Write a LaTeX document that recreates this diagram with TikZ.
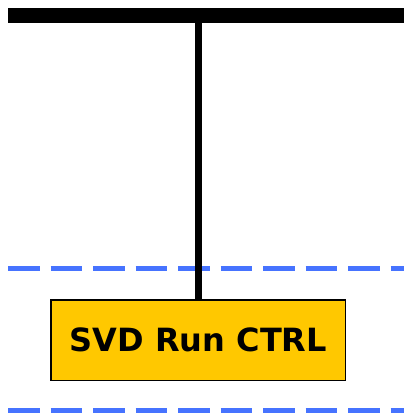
\documentclass[tikz,border=0pt]{standalone}
\usepackage{fontspec}
\setmainfont{DejaVu Sans}
\definecolor{ctrlgold}{RGB}{255,200,0}
\definecolor{laneblue}{RGB}{70,115,255}
\tikzset{
  busbar/.style={line width=15pt, black},
  busdrop/.style={line width=7pt, black},
  lane/.style={line width=4.5pt, laneblue, dash pattern=on 31.5pt off 11pt},
  ctrlbox/.style={draw=black, line width=1.3pt, fill=ctrlgold, minimum width=294.5pt,
    minimum height=80.5pt, inner sep=0pt, font=\fontsize{32}{36}\selectfont\bfseries}
}
\begin{document}
\begin{tikzpicture}[x=1pt, y=-1pt]
  \useasboundingbox (0,0) rectangle (404,415);
  % lane separators
  \coordinate (laneAw) at (8,268.5);
  \coordinate (laneAe) at (404,268.5);
  \coordinate (laneBw) at (8,410.5);
  \coordinate (laneBe) at (404,410.5);
  \draw[lane] (laneAw) -- (laneAe);
  \draw[lane] (laneBw) -- (laneBe);
  % main bus
  \coordinate (busw) at (8,15.5);
  \coordinate (buse) at (404,15.5);
  \coordinate (tap) at (198.5,15.5);
  \draw[busbar] (busw) -- (buse);
  % controller block
  \node[ctrlbox] (svd) at (198.3,340.3) {SVD Run CTRL};
  \draw[busdrop] (tap) -- (svd.north -| tap);
\end{tikzpicture}
\end{document}
